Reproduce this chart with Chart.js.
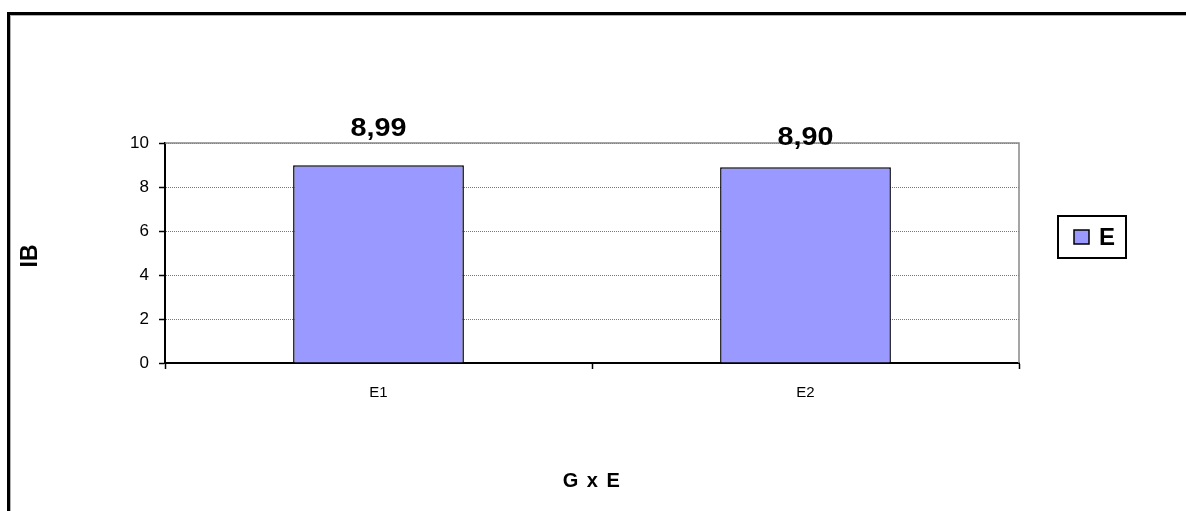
<!DOCTYPE html>
<html>
<head>
<meta charset="utf-8">
<script src="https://cdn.jsdelivr.net/npm/chart.js@4"></script>
<style>
html,body{margin:0;padding:0;background:#fff;}
#wrap{width:1186px;height:511px;position:relative;}
</style>
</head>
<body>
<div id="wrap"><canvas id="c" width="1186" height="511"></canvas></div>
<script>
const categories = ["E1", "E2"];
const seriesName = "E";
const values = [8.99, 8.90];
const valueLabels = ["8,99", "8,90"];
const yTicks = [0, 2, 4, 6, 8, 10];
const yTitle = "IB";
const xTitle = "G x E";

const FONT = "'Liberation Sans', Arial, sans-serif";

const decor = {
  id: 'decor',
  afterDraw(chart, args, opts) {
    const ctx = chart.ctx;
    const ca = chart.chartArea;
    ctx.save();
    // outer border
    ctx.fillStyle = '#000';
    ctx.fillRect(7, 12, 1186, 3);
    ctx.fillRect(7, 12, 3, 511);
    ctx.fillStyle = '#b0b0b0';
    ctx.fillRect(10, 15, 1186, 1);
    ctx.fillRect(10, 15, 1, 511);
    // plot border top/right gray
    ctx.strokeStyle = '#888';
    ctx.lineWidth = 1.5;
    ctx.beginPath();
    ctx.moveTo(ca.left, ca.top);
    ctx.lineTo(ca.right, ca.top);
    ctx.lineTo(ca.right, ca.bottom);
    ctx.stroke();
    // data labels (slightly widened like the original rendering)
    const meta = chart.getDatasetMeta(0);
    ctx.fillStyle = '#000';
    ctx.font = 'bold 25px ' + FONT;
    ctx.textAlign = 'center';
    ctx.textBaseline = 'alphabetic';
    meta.data.forEach((bar, i) => {
      ctx.save();
      ctx.translate(bar.x, bar.y - opts.labelOffsets[i]);
      ctx.scale(1.15, 1);
      ctx.fillText(valueLabels[i], 0, 0);
      ctx.restore();
    });
    // axis titles
    ctx.font = 'bold 20px ' + FONT;
    ctx.letterSpacing = '1.5px';
    ctx.textBaseline = 'middle';
    ctx.fillText(xTitle, (ca.left + ca.right) / 2, 481);
    ctx.letterSpacing = '0px';
    ctx.save();
    ctx.font = 'bold 23px ' + FONT;
    ctx.translate(31, 256);
    ctx.rotate(-Math.PI / 2);
    ctx.fillText(yTitle, 0, 0);
    ctx.restore();
    // legend
    ctx.fillStyle = '#fff';
    ctx.fillRect(1057, 215, 69, 43);
    ctx.strokeStyle = '#000';
    ctx.lineWidth = 2;
    ctx.strokeRect(1058, 216, 68, 42);
    ctx.fillStyle = '#9999FF';
    ctx.fillRect(1074, 230, 15, 14);
    ctx.lineWidth = 1.5;
    ctx.strokeRect(1074, 230, 15, 14);
    ctx.fillStyle = '#000';
    ctx.font = 'bold 24px ' + FONT;
    ctx.textAlign = 'left';
    ctx.fillText(seriesName, 1099, 238);
    ctx.restore();
  }
};

new Chart(document.getElementById('c'), {
  type: 'bar',
  data: {
    labels: categories,
    datasets: [{
      label: seriesName,
      data: values,
      backgroundColor: '#9999FF',
      borderColor: '#000',
      borderWidth: 1.5,
      barPercentage: 0.4,
      categoryPercentage: 1.0
    }]
  },
  options: {
    responsive: false,
    animation: false,
    devicePixelRatio: 1,
    layout: { padding: { top: 143, right: 167, left: 0, bottom: 0 } },
    plugins: {
      legend: { display: false },
      tooltip: { enabled: false },
      decor: { labelOffsets: [29, 22] }
    },
    scales: {
      x: {
        offset: true,
        afterFit(s) { s.height = 148; },
        grid: { offset: true, drawOnChartArea: false, tickLength: 6, tickColor: '#000', tickWidth: 1.5 },
        border: { color: '#000', width: 2 },
        ticks: { color: '#000', font: { family: FONT, size: 15 }, padding: 15 }
      },
      y: {
        min: 0, max: 10,
        afterFit(s) { s.width = 165; },
        afterBuildTicks(s) { s.ticks = yTicks.map(v => ({ value: v })); },
        grid: { color: '#777', lineWidth: 1, tickBorderDash: [], tickColor: '#000', tickLength: 6, tickWidth: 1.5 },
        border: { color: '#000', width: 2, dash: [1, 1] },
        ticks: { color: '#000', font: { family: FONT, size: 17 }, padding: 10 }
      }
    }
  },
  plugins: [decor]
});
</script>
</body>
</html>
